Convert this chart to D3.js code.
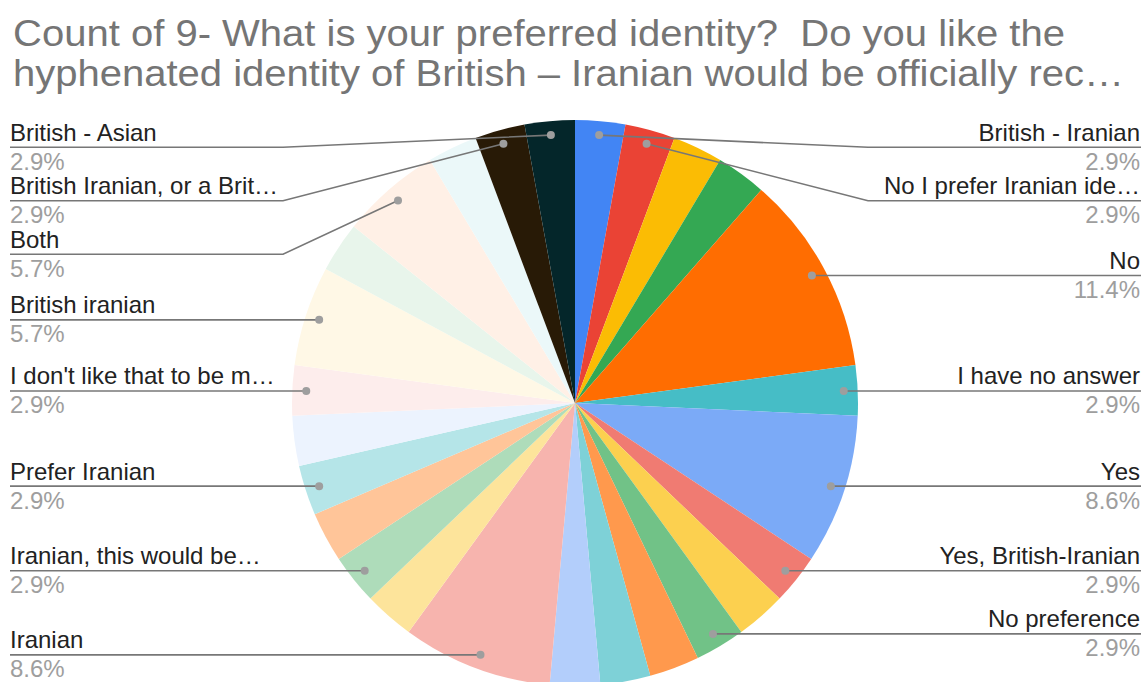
<!DOCTYPE html>
<html>
<head>
<meta charset="utf-8">
<script src="https://cdn.jsdelivr.net/npm/d3@7"></script>
<style>
  html, body { margin: 0; padding: 0; background: #ffffff; }
  svg { display: block; font-family: "Liberation Sans", Arial, Helvetica, sans-serif; }
</style>
</head>
<body>
<svg id="chart" width="1143" height="682"></svg>
<script>
// Chart title (two lines, already truncated)
const titleLines = [
  "Count of 9- What is your preferred identity?  Do you like the",
  "hyphenated identity of British \u2013 Iranian would be officially rec\u2026"
];
// Rendered width of each title line
const titleWidths = [1052, 1111];

// Answers in slice order, clockwise from 12 o'clock.
// null = answer whose label is not shown on the chart.
const categories = [
  "British - Iranian",
  "No I prefer Iranian ide\u2026",
  null,
  null,
  "No",
  "I have no answer",
  "Yes",
  "Yes, British-Iranian",
  null,
  "No preference",
  null,
  null,
  null,
  "Iranian",
  null,
  "Iranian, this would be\u2026",
  null,
  "Prefer Iranian",
  null,
  "I don't like that to be m\u2026",
  "British iranian",
  null,
  "Both",
  null,
  "British Iranian, or a Brit\u2026",
  "British - Asian"
];

// Number of responses per answer
const counts = [1, 1, 1, 1, 4, 1, 3, 1, 1, 1, 1, 1, 1, 3, 1, 1, 1, 1, 1, 1, 2, 1, 2, 1, 1, 1];

// Slice colours
const sliceColors = [
  "#4285f4", "#ea4335", "#fbbc04", "#34a853", "#ff6d01", "#46bdc6",
  "#7baaf7", "#f07b72", "#fcd04f", "#71c287", "#ff994d", "#7ed1d7",
  "#b3cefb", "#f7b4ae", "#fde49b", "#aedcba", "#ffc599", "#b5e5e8",
  "#ecf3fe", "#fdedec", "#fff8e6", "#e8f5eb", "#fff0e6", "#ebf8f9",
  "#281a06", "#04262a"
];

const W = 1143, H = 682;
const cx = 575, cy = 403, R = 283;
const dotR = 269;            // radius where leader lines start
const labelGap = 53.5;       // min vertical distance between stacked labels
const labelTop = 147.3;      // highest allowed leader line
const leftX = 10, rightX = 1140;

const svg = d3.select("#chart");

// Title
svg.append("g")
  .selectAll("text")
  .data(titleLines)
  .join("text")
  .attr("x", 13)
  .attr("y", (d, i) => 45.5 + i * 40.5)
  .attr("font-size", 36)
  .attr("fill", "#757575")
  .attr("textLength", (d, i) => titleWidths[i])
  .attr("lengthAdjust", "spacingAndGlyphs")
  .style("white-space", "pre")
  .attr("xml:space", "preserve")
  .text(d => d);

const total = d3.sum(counts);
const data = counts.map((v, i) => ({
  name: categories[i],
  value: v,
  color: sliceColors[i],
  pct: d3.format(".1f")(v / total * 100) + "%"
}));

const pie = d3.pie().sort(null).value(d => d.value);
const arcs = pie(data);
const arc = d3.arc().innerRadius(0).outerRadius(R);
const dotArc = d3.arc().innerRadius(dotR).outerRadius(dotR);

const g = svg.append("g").attr("transform", `translate(${cx},${cy})`);
g.selectAll("path")
  .data(arcs)
  .join("path")
  .attr("d", arc)
  .attr("fill", d => d.data.color);

// Label layout: right and left columns, stacked top to bottom
const labelled = arcs.filter(d => d.data.name !== null).map(d => {
  const [x, y] = dotArc.centroid(d);
  const mid = (d.startAngle + d.endAngle) / 2;
  return { d, dx: cx + x, dy: cy + y, side: mid < Math.PI ? "right" : "left" };
});

["left", "right"].forEach(side => {
  const items = labelled.filter(l => l.side === side).sort((a, b) => a.dy - b.dy);
  let prev = -Infinity;
  items.forEach(l => {
    l.ly = Math.max(l.dy, prev + labelGap, labelTop);
    prev = l.ly;
  });
});

const lg = svg.append("g");
labelled.forEach(l => {
  const right = l.side === "right";
  const elbowX = right ? cx + R + 10 : cx - R - 9;
  const endX = right ? rightX + 1 : leftX;
  lg.append("path")
    .attr("d", d3.line()([[l.dx, l.dy], [elbowX, l.ly], [endX, l.ly]]))
    .attr("fill", "none")
    .attr("stroke", "#777777")
    .attr("stroke-width", 1.6);
  lg.append("circle")
    .attr("cx", l.dx).attr("cy", l.dy).attr("r", 4)
    .attr("fill", "#9e9e9e");
  lg.append("text")
    .attr("x", right ? rightX : leftX)
    .attr("y", l.ly - 6.5)
    .attr("text-anchor", right ? "end" : "start")
    .attr("font-size", 24)
    .attr("fill", "#222222")
    .text(l.d.data.name);
  lg.append("text")
    .attr("x", right ? rightX : leftX)
    .attr("y", l.ly + 22.5)
    .attr("text-anchor", right ? "end" : "start")
    .attr("font-size", 24)
    .attr("fill", "#9e9e9e")
    .text(l.d.data.pct);
});
</script>
</body>
</html>
